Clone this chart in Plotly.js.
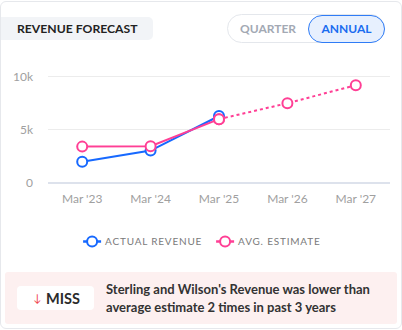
<!DOCTYPE html>
<html>
<head>
<meta charset="utf-8">
<script src="https://cdn.plot.ly/plotly-3.0.1.min.js"></script>
<style>
  html, body { margin:0; padding:0; background:#fff; }
  body { width:402px; height:330px; position:relative; overflow:hidden; font-family: Lato, "Open Sans", sans-serif; }
  #card { position:absolute; left:0; top:1px; width:400px; height:326px; border:1px solid #e6e8ec; border-radius:6px; box-sizing:content-box; }
  #plot { position:absolute; left:0; top:0; width:402px; height:330px; }
  .title { position:absolute; left:1px; top:17px; width:152px; height:23px; background:#f2f4f7; border-radius:0 5px 5px 0; font-weight:700; font-size:12.2px; color:#222; line-height:23px; padding-left:16px; box-sizing:border-box; }
  .toggle { position:absolute; left:227px; top:14px; width:158px; height:29px; border:1px solid #e4e7ec; border-radius:15px; box-sizing:border-box; }
  .q { position:absolute; left:240px; top:14px; height:29px; line-height:29px; font-size:12px; font-weight:700; color:#a3a9b4; }
  .a { position:absolute; left:308px; top:15px; width:77px; height:28px; border:1px solid #2f7cf6; background:#e7f0fe; border-radius:14px; box-sizing:border-box; font-size:12px; font-weight:700; color:#1a6cf0; text-align:center; line-height:26px; }
  .miss-box { position:absolute; left:5px; top:272px; width:392px; height:52px; background:#fdf0f0; border-radius:3px; }
  .pill { position:absolute; left:17px; top:286px; width:77px; height:24px; background:#fff; border-radius:4px; }
  .arrow { position:absolute; left:33px; top:286px; height:24px; line-height:24px; font-size:11px; color:#f0474f; }
  .miss { position:absolute; left:46px; top:286px; height:24px; line-height:25px; font-size:14.5px; font-weight:700; color:#2b2b2b; }
  .msg { position:absolute; left:106px; top:281px; font-size:13px; font-weight:700; color:#333; line-height:17.5px; }
</style>
</head>
<body>
<div id="card"></div>
<div id="plot"></div>
<div class="title">REVENUE FORECAST</div>
<div class="toggle"></div>
<div class="q">QUARTER</div>
<div class="a">ANNUAL</div>
<div class="miss-box"></div>
<div class="pill"></div>
<div class="arrow">&#8595;</div>
<div class="miss">MISS</div>
<div class="msg">Sterling and Wilson's Revenue was lower than<br>average estimate 2 times in past 3 years</div>
<script>
const categories = ["Mar '23", "Mar '24", "Mar '25", "Mar '26", "Mar '27"];
const actualX = ["Mar '23", "Mar '24", "Mar '25"];
const actualRevenue = [2000, 3050, 6300];
const estimateX = ["Mar '23", "Mar '24", "Mar '25"];
const estimate = [3420, 3450, 6000];
const forecastX = ["Mar '25", "Mar '26", "Mar '27"];
const forecast = [6000, 7500, 9200];
const yTicks = [0, 5000, 10000];
const yTickText = ["0", "5k", "10k"];

const BLUE = "#1769ff", PINK = "#ff3f95";
const mk = c => ({symbol:"circle", size:10, color:"#fff", line:{color:c, width:2}});

const traces = [
  {x: actualX, y: actualRevenue, type:"scatter", mode:"lines+markers", name:"ACTUAL REVENUE", line:{color:BLUE, width:2}, marker:mk(BLUE)},
  {x: forecastX, y: forecast, type:"scatter", mode:"lines+markers", line:{color:PINK, width:2, dash:"dot"}, marker:mk(PINK), showlegend:false, hoverinfo:"skip"},
  {x: estimateX, y: estimate, type:"scatter", mode:"lines+markers", name:"AVG. ESTIMATE", line:{color:PINK, width:2}, marker:mk(PINK)},
];

const layout = {
  width:402, height:330,
  margin:{l:48, r:12, t:66, b:147},
  paper_bgcolor:"rgba(0,0,0,0)", plot_bgcolor:"rgba(0,0,0,0)",
  font:{family:"Lato, 'Open Sans', sans-serif", color:"#9e9e9e", size:12},
  showlegend:true,
  legend:{orientation:"h", x:0.05, xanchor:"left", y:-0.5, yanchor:"middle", entrywidth:88, font:{size:10, color:"#7a7a7a"}, traceorder:"normal", itemclick:false},
  xaxis:{type:"category", categoryarray:categories, categoryorder:"array", range:[-0.5, 4.5], showgrid:false, zeroline:false, showline:false, ticks:"", ticklabelstandoff:7, tickfont:{size:12, color:"#a0a0a0"}, fixedrange:true},
  yaxis:{range:[0, 11000], tickvals:yTicks, ticktext:yTickText, showgrid:true, gridcolor:"#ececec", gridwidth:1, zeroline:true, zerolinecolor:"#dde2ec", zerolinewidth:2, showline:false, ticks:"", ticklabelstandoff:14, tickfont:{size:12, color:"#a0a0a0"}, fixedrange:true},
};

Plotly.newPlot("plot", traces, layout, {displayModeBar:false, staticPlot:true}).then(gd => {
  gd.querySelectorAll(".legend .scrollbox").forEach(s => s.removeAttribute("clip-path"));
  gd.querySelectorAll(".legendtext").forEach(t => t.style.letterSpacing = "0.8px");
  gd.querySelectorAll(".legend .legendlines path").forEach(p => { p.setAttribute("d", "M18,0h18"); p.style.strokeWidth = "2.5px"; });
  gd.querySelectorAll(".legend .legendpoints path").forEach(p => p.setAttribute("transform", "translate(27,0)"));
});
</script>
</body>
</html>
